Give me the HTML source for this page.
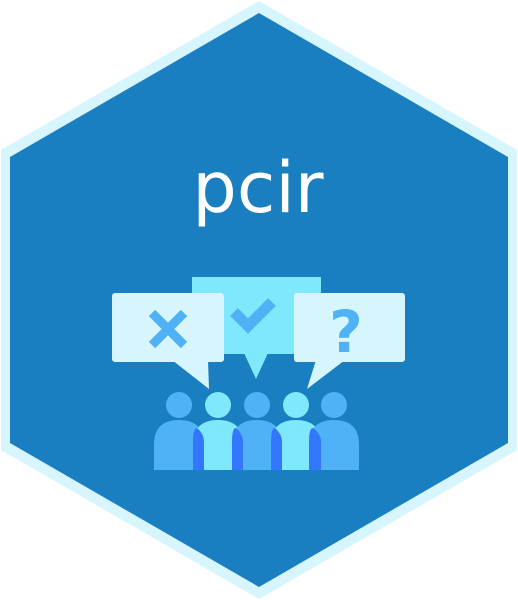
<!DOCTYPE html>
<html><head><style>body{margin:0;background:#fff}svg{display:block}</style></head>
<body>
<svg width="518" height="600" viewBox="0 0 518 600" xmlns="http://www.w3.org/2000/svg">
<polygon points="259,1 517,150 517,450 259,599 1,450 1,150" fill="#d6f5fd"/>
<polygon points="259,13 508,157 508,443 259,587 10,443 10,157" fill="#1a7fc0"/>
<text x="258" y="212" text-anchor="middle" font-family="'DejaVu Sans','Liberation Sans',sans-serif" font-size="70" fill="#ffffff">pcir</text>
<rect x="192" y="277" width="129" height="77" fill="#7fe8fd"/>
<polygon points="244,353 268,353 256,379" fill="#7fe8fd"/>
<polyline points="234,312 248,326 272,302" fill="none" stroke="#4fb2f7" stroke-width="11"/>
<rect x="112" y="293" width="112" height="69" rx="3" fill="#d6f5fd"/>
<polygon points="172,360 208,360 209,389" fill="#d6f5fd"/>
<path d="M152,313 L184,345 M184,313 L152,345" stroke="#4fb2f7" stroke-width="9"/>
<rect x="294" y="293" width="111" height="69" rx="3" fill="#d6f5fd"/>
<polygon points="316,360 345,360 307,389" fill="#d6f5fd"/>
<text x="346" y="352" text-anchor="middle" font-family="'DejaVu Sans',sans-serif" font-weight="bold" font-size="58" fill="#4fb2f7">?</text>
<g>
<circle cx="179" cy="405" r="13" fill="#4fb2f7"/>
<circle cx="218" cy="405" r="13" fill="#7fe8fd"/>
<circle cx="257" cy="405" r="13" fill="#4fb2f7"/>
<circle cx="296" cy="405" r="13" fill="#7fe8fd"/>
<circle cx="334" cy="405" r="13" fill="#4fb2f7"/>
<path d="M154,470 V445 Q154,420 179,420 Q204,420 204,445 V470Z" fill="#4fb2f7"/>
<path d="M193,470 V445 Q193,420 218,420 Q243,420 243,445 V470Z" fill="#7fe8fd"/>
<path d="M232,470 V445 Q232,420 257,420 Q282,420 282,445 V470Z" fill="#4fb2f7"/>
<path d="M271,470 V445 Q271,420 296,420 Q321,420 321,445 V470Z" fill="#7fe8fd"/>
<path d="M309,470 V445 Q309,420 334,420 Q359,420 359,445 V470Z" fill="#4fb2f7"/>
<path d="M193,470 V442 Q193,428 197,428 Q204,434 204,442 V470Z" fill="#3377ff"/>
<path d="M232,470 V442 Q232,428 236,428 Q243,434 243,442 V470Z" fill="#3377ff"/>
<path d="M271,470 V442 Q271,428 275,428 Q282,434 282,442 V470Z" fill="#3377ff"/>
<path d="M309,470 V442 Q309,428 313,428 Q321,434 321,442 V470Z" fill="#3377ff"/>
</g>
</svg>
</body></html>
